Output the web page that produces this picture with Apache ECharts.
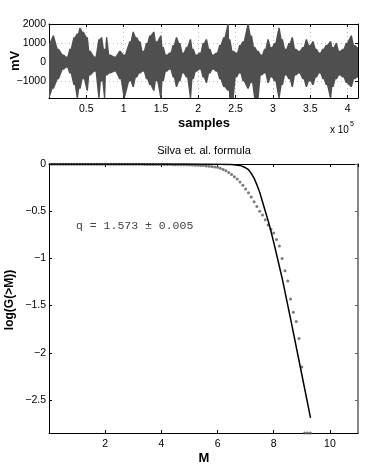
<!DOCTYPE html>
<html>
<head>
<meta charset="utf-8">
<script src="https://cdn.jsdelivr.net/npm/echarts@6/dist/echarts.min.js"></script>
<style>
  html, body { margin: 0; padding: 0; background: #fff; }
  #chart { width: 374px; height: 467px; }
</style>
</head>
<body>
<div id="chart"></div>
<script>
// top panel: signal envelope (high / low per column)
const sampleX = [0, 5800, 12500, 19200, 23600, 28100, 33500, 37900, 41500, 45900,
  51300, 54900, 61500, 66900, 70500, 74500, 77200, 81600, 88300, 95000,
  100800, 108400, 112800, 117300, 121800, 126200, 130700, 135100, 140500, 144100,
  149900, 153000, 157400, 161900, 166400, 170800, 175300, 179700, 184200, 189600,
  193100, 197600, 202100, 206500, 211000, 215400, 219900, 224300, 228800, 234200,
  240000, 242200, 246700, 251100, 255600, 260000, 266700, 271200, 275600, 280100,
  284600, 289000, 293500, 297900, 302400, 308200, 312700, 317100, 321600, 326000,
  330500, 335000, 340300, 344800, 349200, 353700, 358200, 362600, 367100, 371500,
  377300, 380500, 384900, 389400, 393800, 398300, 405000, 409500, 413900]
const sampleHi = [1000, 1400, 700, 400, 300, 700, 1300, 1500, 1800, 1600,
  1300, 600, 300, 1200, 1300, 700, 1300, 400, 300, 600,
  400, 1100, 1600, 1300, 1100, 600, 1000, 1400, 1600, 1100,
  1400, 800, 400, 500, 900, 1300, 1000, 500, 800, 1200,
  700, 400, 500, 1000, 1200, 700, 400, 500, 900, 1300,
  2000, 1200, 600, 500, 900, 1100, 2000, 1400, 800, 600,
  400, 700, 1200, 800, 1000, 1800, 1200, 700, 1000, 1300,
  700, 600, 800, 1200, 900, 1100, 700, 500, 700, 900,
  1100, 800, 1000, 600, 700, 1000, 1400, 900, 800]
const sampleLo = [-1850, -1400, -900, -400, -300, -600, -1200, -1880, -1400, -900,
  -1500, -700, -500, -1880, -1000, -1880, -700, -600, -500, -900,
  -1880, -1000, -1300, -800, -600, -500, -900, -1200, -1500, -1000,
  -1880, -1000, -500, -400, -800, -1300, -1000, -600, -800, -1880,
  -900, -500, -400, -800, -1100, -600, -400, -500, -900, -1300,
  -1500, -1880, -1880, -800, -600, -1000, -1400, -1100, -1880, -1880,
  -700, -600, -1100, -800, -1000, -1880, -1200, -700, -900, -1300,
  -700, -600, -900, -1300, -1000, -1200, -800, -600, -900, -1200,
  -1880, -1300, -900, -700, -800, -1100, -1300, -900, -800]
const mvTicks = [-1000, 0, 1000, 2000]

// bottom panel: fitted curve and measured points
const fitM = [0, 1, 2, 3, 4, 5, 6, 6.5, 6.8, 7.0, 7.1, 7.2, 7.3, 7.4, 7.5, 7.6,
  7.7, 7.8, 7.9, 8.0, 8.3, 8.6, 9.0, 9.31]
const fitLogG = [0, 0, 0, 0, 0, 0, -0.002, -0.006, -0.015, -0.04, -0.06, -0.1,
  -0.15, -0.22, -0.3, -0.4, -0.5, -0.6, -0.71, -0.83, -1.21, -1.64, -2.23, -2.69]
const obsM = [0.1, 0.2, 0.3, 0.4, 0.5, 0.6, 0.7, 0.8, 0.9, 1.0,
  1.1, 1.2, 1.3, 1.4, 1.5, 1.6, 1.7, 1.8, 1.9, 2.0,
  2.1, 2.2, 2.3, 2.4, 2.5, 2.6, 2.7, 2.8, 2.9, 3.0,
  3.1, 3.2, 3.3, 3.4, 3.5, 3.6, 3.7, 3.8, 3.9, 4.0,
  4.1, 4.2, 4.3, 4.4, 4.5, 4.6, 4.7, 4.8, 4.9, 5.0,
  5.1, 5.2, 5.3, 5.4, 5.5, 5.6, 5.7, 5.8, 5.9, 6.0,
  6.1, 6.2, 6.3, 6.4, 6.5, 6.6, 6.7, 6.8, 6.9, 7.0,
  7.1, 7.2, 7.3, 7.4, 7.5, 7.6, 7.7, 7.8, 7.9, 8.0,
  8.1, 8.2, 8.3, 8.4, 8.5, 8.6, 8.7, 8.8, 8.9, 9.0,
  9.1, 9.2, 9.3]
const obsLogG = [-0.002, -0.002, -0.002, -0.002, -0.002, -0.002, -0.002, -0.002, -0.002, -0.002,
  -0.002, -0.002, -0.002, -0.002, -0.002, -0.002, -0.002, -0.002, -0.002, -0.003,
  -0.003, -0.003, -0.003, -0.003, -0.003, -0.003, -0.003, -0.003, -0.003, -0.003,
  -0.003, -0.003, -0.003, -0.004, -0.004, -0.004, -0.004, -0.004, -0.004, -0.005,
  -0.005, -0.006, -0.006, -0.007, -0.007, -0.008, -0.008, -0.009, -0.009, -0.010,
  -0.011, -0.012, -0.014, -0.015, -0.017, -0.020, -0.023, -0.027, -0.031, -0.035,
  -0.045, -0.058, -0.072, -0.09, -0.11, -0.135, -0.16, -0.19, -0.225, -0.265,
  -0.305, -0.35, -0.40, -0.45, -0.50, -0.54, -0.59, -0.645, -0.69, -0.73,
  -0.80, -0.87, -1.00, -1.13, -1.24, -1.43, -1.57, -1.67, -1.85, -2.15,
  -2.85, -2.85, -2.85]
const logGTicks = [0, -0.5, -1, -1.5, -2, -2.5]

const FONT = 'Liberation Sans'
const minus = v => String(v).replace('-', '\u2212')

// one polygon for the whole envelope, each reading kept as a narrow flat top
function renderEnvelope(params, api) {
  if (params.dataIndex !== 0) return null
  const half = 900
  const top = []
  const bottom = []
  sampleX.forEach((x, i) => {
    const a = Math.max(0, x - half)
    const b = Math.min(414000, x + half)
    top.push(api.coord([a, sampleHi[i]]), api.coord([b, sampleHi[i]]))
    bottom.push(api.coord([a, sampleLo[i]]), api.coord([b, sampleLo[i]]))
  })
  return {
    type: 'polygon',
    shape: { points: top.concat(bottom.reverse()) },
    style: { fill: '#4f4f4f' },
  }
}

const boxAxis = (color, width) => ({
  axisLine: { show: true, onZero: false, lineStyle: { color: color, width: width } },
  axisTick: { show: true, inside: true, length: 3, lineStyle: { color: color } },
})

const dotted = { show: true, lineStyle: { color: '#bbb', type: [1, 3], width: 1 } }

const option = {
  animation: false,
  backgroundColor: '#fff',
  grid: [
    { left: 49, top: 24, width: 309, height: 74 },
    { left: 49, top: 164, width: 309, height: 269 },
  ],
  xAxis: [
    {
      type: 'value', gridIndex: 0, min: 0, max: 414000, interval: 50000,
      ...boxAxis('#000', 1),
      axisLabel: {
        fontFamily: FONT, fontSize: 10.5, color: '#000', margin: 6,
        showMaxLabel: false,
        formatter: v => (v === 0 ? '' : String(v / 1e5)),
      },
      splitLine: dotted,
    },
    {
      type: 'value', gridIndex: 0, position: 'top', min: 0, max: 414000, interval: 50000,
      ...boxAxis('#000', 1),
      axisLabel: { show: false },
      splitLine: { show: false },
    },
    {
      type: 'value', gridIndex: 1, min: 0, max: 11, interval: 2,
      ...boxAxis('#000', 1),
      axisLabel: {
        fontFamily: FONT, fontSize: 10.5, color: '#000', margin: 6,
        showMaxLabel: false,
        formatter: v => (v === 0 ? '' : String(v)),
      },
      splitLine: { show: false },
    },
    {
      type: 'value', gridIndex: 1, position: 'top', min: 0, max: 11, interval: 2,
      ...boxAxis('#000', 1),
      axisLabel: { show: false },
      splitLine: { show: false },
    },
  ],
  yAxis: [
    {
      type: 'value', gridIndex: 0, min: -1880, max: 2000,
      axisLine: { show: true, onZero: false, lineStyle: { color: '#000' } },
      axisTick: { show: true, inside: true, length: 3, customValues: mvTicks, lineStyle: { color: '#000' } },
      axisLabel: {
        fontFamily: FONT, fontSize: 10.5, color: '#000', margin: 3,
        customValues: mvTicks, formatter: minus,
      },
      splitLine: dotted,
    },
    {
      type: 'value', gridIndex: 0, position: 'right', min: -1880, max: 2000,
      axisLine: { show: true, onZero: false, lineStyle: { color: '#000' } },
      axisTick: { show: true, inside: true, length: 3, customValues: mvTicks, lineStyle: { color: '#000' } },
      axisLabel: { show: false },
      splitLine: { show: false },
    },
    {
      type: 'value', gridIndex: 1, min: -2.85, max: 0,
      axisLine: { show: true, onZero: false, lineStyle: { color: '#000' } },
      axisTick: { show: true, inside: true, length: 3, customValues: logGTicks, lineStyle: { color: '#000' } },
      axisLabel: {
        fontFamily: FONT, fontSize: 10.5, color: '#000', margin: 3,
        customValues: logGTicks, formatter: minus,
      },
      splitLine: { show: false },
    },
    {
      type: 'value', gridIndex: 1, position: 'right', min: -2.85, max: 0,
      axisLine: { show: true, onZero: false, lineStyle: { color: '#888', width: 2 } },
      axisTick: { show: true, inside: true, length: 3, customValues: logGTicks, lineStyle: { color: '#666' } },
      axisLabel: { show: false },
      splitLine: { show: false },
    },
  ],
  series: [
    {
      type: 'custom',
      xAxisIndex: 0, yAxisIndex: 0,
      clip: true,
      renderItem: renderEnvelope,
      encode: { x: 0, y: [1, 2] },
      data: sampleX.map((x, i) => [x, sampleHi[i], sampleLo[i]]),
    },
    {
      type: 'scatter',
      xAxisIndex: 2, yAxisIndex: 2,
      symbol: 'circle', symbolSize: 3,
      itemStyle: { color: '#5a5a5a' },
      data: obsM.map((m, i) => [m, obsLogG[i]]),
      z: 3,
    },
    {
      type: 'line',
      xAxisIndex: 2, yAxisIndex: 2,
      showSymbol: false,
      lineStyle: { color: '#000', width: 1.5 },
      data: fitM.map((m, i) => [m, fitLogG[i]]),
      z: 4,
    },
  ],
  graphic: [
    { type: 'text', x: 15, y: 61, rotation: Math.PI / 2,
      style: { text: 'mV', font: 'bold 13px ' + FONT, fill: '#000', align: 'center', verticalAlign: 'middle' } },
    { type: 'text', x: 204, y: 123,
      style: { text: 'samples', font: 'bold 13px ' + FONT, fill: '#000', align: 'center', verticalAlign: 'middle' } },
    { type: 'text', x: 330, y: 130,
      style: { text: 'x 10', font: '10px ' + FONT, fill: '#000', align: 'left', verticalAlign: 'middle' } },
    { type: 'text', x: 350, y: 124,
      style: { text: '5', font: '7px ' + FONT, fill: '#000', align: 'left', verticalAlign: 'middle' } },
    { type: 'text', x: 204, y: 151,
      style: { text: 'Silva et. al. formula', font: '11px ' + FONT, fill: '#000', align: 'center', verticalAlign: 'middle' } },
    { type: 'text', x: 76, y: 226,
      style: { text: 'q = 1.573 \u00b1 0.005', font: '11.5px "Liberation Mono"', fill: '#444', align: 'left', verticalAlign: 'middle' } },
    { type: 'text', x: 10, y: 300, rotation: Math.PI / 2,
      style: { text: 'log(G(>M))', font: 'bold 12px ' + FONT, fill: '#000', align: 'center', verticalAlign: 'middle' } },
    { type: 'text', x: 204, y: 458,
      style: { text: 'M', font: 'bold 13px ' + FONT, fill: '#000', align: 'center', verticalAlign: 'middle' } },
  ],
}

const chart = echarts.init(document.getElementById('chart'), null, { renderer: 'canvas' })
chart.setOption(option)
</script>
</body>
</html>
